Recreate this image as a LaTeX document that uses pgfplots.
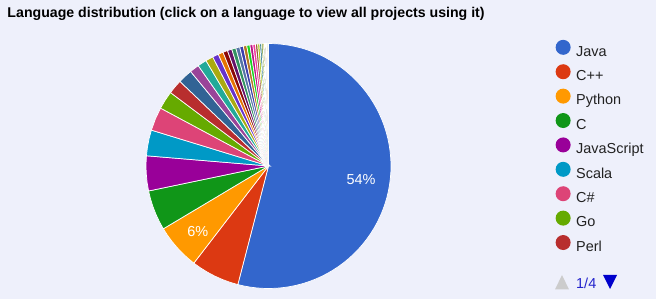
\documentclass[border=0pt]{standalone}
\usepackage{pgfplots}
\pgfplotsset{compat=1.18}
\usepackage{fontspec}
\setmainfont{Liberation Sans}
\definecolor{bgc}{HTML}{EEF0FB}
\definecolor{txt}{HTML}{222222}
\definecolor{pager}{HTML}{2222CC}
\definecolor{g1}{HTML}{3366CC}
\definecolor{g2}{HTML}{DC3912}
\definecolor{g3}{HTML}{FF9900}
\definecolor{g4}{HTML}{109618}
\definecolor{g5}{HTML}{990099}
\definecolor{g6}{HTML}{0099C6}
\definecolor{g7}{HTML}{DD4477}
\definecolor{g8}{HTML}{66AA00}
\definecolor{g9}{HTML}{B82E2E}
\definecolor{g10}{HTML}{316395}
\definecolor{g11}{HTML}{994499}
\definecolor{g12}{HTML}{22AA99}
\definecolor{g13}{HTML}{AAAA11}
\definecolor{g14}{HTML}{6633CC}
\definecolor{g15}{HTML}{E67300}
\definecolor{g16}{HTML}{8B0707}
\definecolor{g17}{HTML}{651067}
\definecolor{g18}{HTML}{329262}
\definecolor{g19}{HTML}{5574A6}
\definecolor{g20}{HTML}{3B3EAC}
\definecolor{g21}{HTML}{B77322}
\definecolor{g22}{HTML}{16D620}
\definecolor{g23}{HTML}{B91383}
\definecolor{g24}{HTML}{F4359E}
\definecolor{g25}{HTML}{9C5935}
\definecolor{g26}{HTML}{A9C413}
\definecolor{g27}{HTML}{2A778D}
\definecolor{g28}{HTML}{668D1C}
\definecolor{g29}{HTML}{BEA413}
\definecolor{g30}{HTML}{0C5922}
\definecolor{g31}{HTML}{743411}
% share of each language in percent / colour
\def\piedata{54.03/g1, 6.4/g2, 6.0/g3, 5.3/g4, 4.6/g5, 3.4/g6, 3.1/g7, 2.4/g8, 1.9/g9,
 1.9/g10, 1.25/g11, 1.2/g12, 1.0/g13, 0.8/g14, 0.67/g15, 0.62/g16, 0.58/g17, 0.55/g18,
 0.52/g19, 0.48/g20, 0.45/g21, 0.42/g22, 0.38/g23, 0.34/g24, 0.3/g25, 0.27/g26, 0.24/g27,
 0.2/g28, 0.17/g29, 0.14/g30, 0.11/g31, 0.09/g1, 0.07/g2, 0.05/g3, 0.04/g4, 0.03/g5}
\begin{document}
\begin{tikzpicture}
\fill[bgc] (0bp,0bp) rectangle (656bp,299bp);
\node[anchor=base west, inner sep=0pt, font=\bfseries\fontsize{14.2}{16}\selectfont] at (7.3bp,281.7bp)
  {Language distribution (click on a language to view all projects using it)};
\begin{axis}[
  at={(268.5bp,133bp)}, anchor=center,
  width=245bp, height=245bp, scale only axis,
  xmin=-1, xmax=1, ymin=-1, ymax=1,
  hide axis, clip=false,
  legend entries={Java, C++, Python, C, JavaScript, Scala, C\#, Go, Perl},
  legend image code/.code={\path[#1,draw=none] (0bp,5.2bp) circle (7.5bp);},
  legend cell align=left,
  legend style={draw=none, fill=none, inner sep=0pt, outer sep=0pt,
    at={(1.672,1.015)}, anchor=north west,
    font=\fontsize{14.5}{17}\selectfont, text=txt,
    nodes={inner sep=0pt, text height=11bp, text depth=4bp},
    row sep=4.2bp, column sep=5.5bp},
]
\gdef\cum{0}
\foreach \v/\c in \piedata {
  \pgfmathsetmacro\a{90-(\cum+\v)*3.6}
  \pgfmathsetmacro\b{90-\cum*3.6}
  \pgfmathsetmacro\n{int(max(3,\v*1.2))}
  \pgfmathsetmacro\newcum{\cum+\v}
  \xdef\cum{\newcum}
  \edef\temp{\noexpand\addplot[fill=\c, draw=white, line width=0.7bp, domain=\a:\b, samples=\n]
    ({cos(x)},{sin(x)}) -- (axis cs:0,0) -- cycle;}
  \temp
}
\node[text=white, font=\fontsize{14.5}{17}\selectfont] at (axis cs:0.755,-0.107) {54\%};
\node[text=white, font=\fontsize{14.5}{17}\selectfont] at (axis cs:-0.578,-0.533) {6\%};
\end{axis}
\fill[black!20] (555bp,9.5bp) -- (569bp,9.5bp) -- (562bp,24bp) -- cycle;
\fill[blue!80!black] (603bp,24bp) -- (617bp,24bp) -- (610bp,10bp) -- cycle;
\node[anchor=base west, inner sep=0pt, text=pager, font=\fontsize{14.5}{17}\selectfont] at (576bp,10.7bp) {1/4};
\end{tikzpicture}
\end{document}
